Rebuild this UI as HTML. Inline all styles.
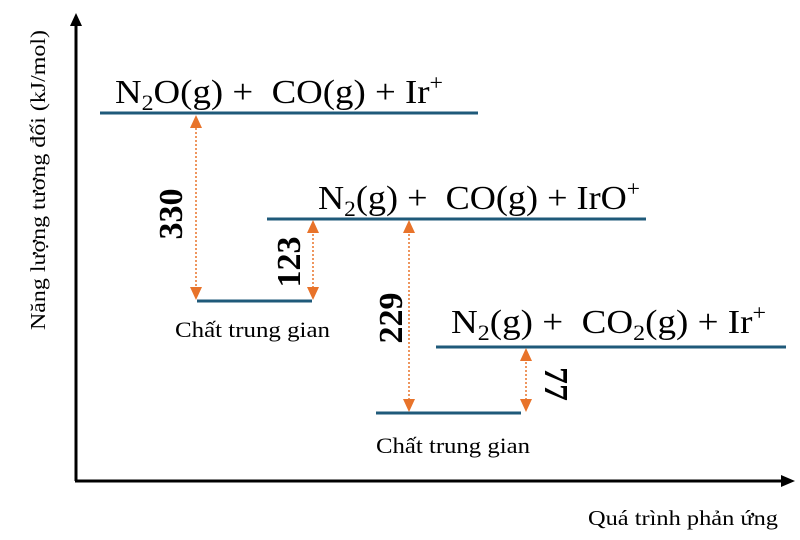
<!DOCTYPE html>
<html><head><meta charset="utf-8"><style>
html,body{margin:0;padding:0;background:#fff;}
svg{display:block;}
text{font-family:"Liberation Serif",serif;fill:#000;}
</style></head><body>
<svg width="800" height="540" viewBox="0 0 800 540" xmlns="http://www.w3.org/2000/svg">
<!-- axes -->
<line x1="76" y1="481" x2="76" y2="24" stroke="#000" stroke-width="3"/>
<polygon points="76,13 70,26 82,26" fill="#000"/>
<line x1="75" y1="481" x2="782" y2="481" stroke="#000" stroke-width="3"/>
<polygon points="795,481 781,475 781,487" fill="#000"/>
<!-- axis labels -->
<text transform="translate(45,180) rotate(-90)" font-size="21" text-anchor="middle" textLength="300" lengthAdjust="spacingAndGlyphs">Năng lượng tương đối (kJ/mol)</text>
<text x="588" y="525" font-size="21" textLength="190" lengthAdjust="spacingAndGlyphs">Quá trình phản ứng</text>
<!-- levels -->
<g stroke="#1f5a7a" stroke-width="3">
<line x1="100" y1="113" x2="478" y2="113"/>
<line x1="197" y1="301" x2="312" y2="301"/>
<line x1="267" y1="219" x2="646" y2="219"/>
<line x1="376" y1="413" x2="521" y2="413"/>
<line x1="436" y1="347" x2="786" y2="347"/>
</g>
<!-- level labels -->
<text x="115" y="103" font-size="34" textLength="328" lengthAdjust="spacingAndGlyphs">N<tspan font-size="22" dy="7">2</tspan><tspan dy="-7">O(g) +&#160; CO(g) + Ir</tspan><tspan font-size="22" dy="-13">+</tspan></text>
<text x="318" y="209" font-size="34" textLength="322" lengthAdjust="spacingAndGlyphs">N<tspan font-size="22" dy="7">2</tspan><tspan dy="-7">(g) +&#160; CO(g) + IrO</tspan><tspan font-size="22" dy="-13">+</tspan></text>
<text x="451" y="333" font-size="34" textLength="315" lengthAdjust="spacingAndGlyphs">N<tspan font-size="22" dy="7">2</tspan><tspan dy="-7">(g) +&#160; CO</tspan><tspan font-size="22" dy="7">2</tspan><tspan dy="-7">(g) + Ir</tspan><tspan font-size="22" dy="-13">+</tspan></text>
<text x="175" y="337" font-size="22" textLength="155" lengthAdjust="spacingAndGlyphs">Chất trung gian</text>
<text x="376" y="453" font-size="22" textLength="154" lengthAdjust="spacingAndGlyphs">Chất trung gian</text>
<!-- arrows -->
<g stroke="#e8732a" stroke-width="1.5" stroke-dasharray="2,2">
<line x1="196" y1="124" x2="196" y2="290"/>
<line x1="313" y1="230" x2="313" y2="290"/>
<line x1="409" y1="230" x2="409" y2="402"/>
<line x1="526" y1="358" x2="526" y2="402"/>
</g>
<g fill="#e8732a">
<polygon points="196,115 190,128 202,128"/><polygon points="196,300 190,287 202,287"/>
<polygon points="313,220 307,233 319,233"/><polygon points="313,300 307,287 319,287"/>
<polygon points="409,220 403,233 415,233"/><polygon points="409,412 403,399 415,399"/>
<polygon points="526,348 520,361 532,361"/><polygon points="526,412 520,399 532,399"/>
</g>
<!-- values -->
<g font-size="34" font-weight="bold" text-anchor="middle">
<text transform="translate(182,214) rotate(-90)">330</text>
<text transform="translate(300,262) rotate(-90)">123</text>
<text transform="translate(402,318) rotate(-90)">229</text>
<text transform="translate(545,384) rotate(90)">77</text>
</g>
</svg>
</body></html>
